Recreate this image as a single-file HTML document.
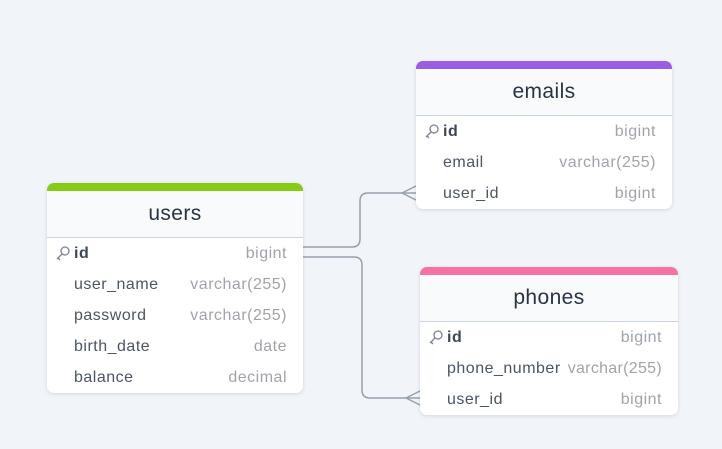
<!DOCTYPE html><html><head><style>
body{margin:0;width:722px;height:449px;background:#f1f5f9;font-family:"Liberation Sans",sans-serif;position:relative;overflow:hidden}
.t{position:absolute;background:#fff;border-radius:7px;box-shadow:0 1px 4px rgba(0,0,0,.12);overflow:hidden}
.bar{height:8px}
.h{height:46px;background:#f8fafc;border-bottom:1px solid #cbd5e1;text-align:center;line-height:46px;font-size:21px;color:#283445;letter-spacing:.4px}
.r{height:31px;line-height:32px;font-size:16px;position:relative;color:#4b5563;letter-spacing:.5px}
.r .n{position:absolute;left:27px}.r .y{position:absolute;right:16px;color:#a0a4aa}
.b{font-weight:bold;color:#3f4754}
.k{position:absolute;left:8px;top:8px}
</style></head><body>
<svg width="722" height="449" style="position:absolute;left:0;top:0" fill="none" stroke="#97a0ae" stroke-width="1.5">
<path d="M303 247 H352 Q360 247 360 239 V201 Q360 193 368 193 H416"/>
<path d="M402 193 L416 186 M402 193 L416 200"/>
<path d="M303 257 H354 Q362 257 362 265 V390 Q362 398 370 398 H420"/>
<path d="M406 398 L420 391 M406 398 L420 405"/>
</svg>
<svg width="0" height="0" style="position:absolute"><defs><g id="key" fill="none" stroke="#7b8390" stroke-width="1.3"><circle cx="10" cy="5" r="4"/><path d="M7 8 L2 13 M3 12 L5 14"/></g></defs></svg>
<div class="t" style="left:47px;top:183px;width:256px;height:210px"><div class="bar" style="background:#84cc16"></div><div class="h">users</div>
<div>
<div class="r"><svg class="k" width="16" height="16"><use href="#key"/></svg><span class="n b">id</span><span class="y">bigint</span></div>
<div class="r"><span class="n">user_name</span><span class="y">varchar(255)</span></div>
<div class="r"><span class="n">password</span><span class="y">varchar(255)</span></div>
<div class="r"><span class="n">birth_date</span><span class="y">date</span></div>
<div class="r"><span class="n">balance</span><span class="y">decimal</span></div></div></div>
<div class="t" style="left:416px;top:61px;width:256px;height:148px"><div class="bar" style="background:#9b5de5"></div><div class="h">emails</div>
<div>
<div class="r"><svg class="k" width="16" height="16"><use href="#key"/></svg><span class="n b">id</span><span class="y">bigint</span></div>
<div class="r"><span class="n">email</span><span class="y">varchar(255)</span></div>
<div class="r"><span class="n">user_id</span><span class="y">bigint</span></div></div></div>
<div class="t" style="left:420px;top:267px;width:258px;height:148px"><div class="bar" style="background:#f472a6"></div><div class="h">phones</div>
<div>
<div class="r"><svg class="k" width="16" height="16"><use href="#key"/></svg><span class="n b">id</span><span class="y">bigint</span></div>
<div class="r"><span class="n">phone_number</span><span class="y" style="right:16px;letter-spacing:.3px">varchar(255)</span></div>
<div class="r"><span class="n">user_id</span><span class="y">bigint</span></div></div></div>
</body></html>
